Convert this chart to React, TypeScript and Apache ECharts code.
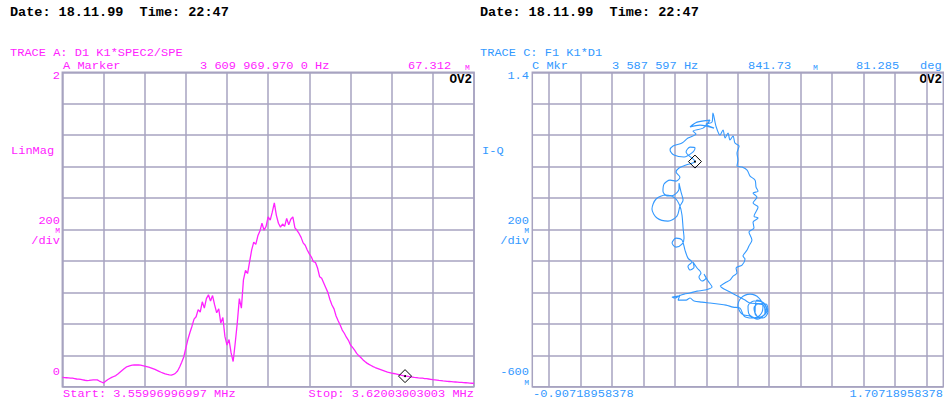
import React, { useEffect, useRef } from 'react';
import * as echarts from 'echarts';

// TRACE A: LinMag over 201 sweep points (index 0..200 between start & stop freq)
const leftMag = [
  0.059, 0.058, 0.057, 0.056, 0.055, 0.054, 0.052, 0.049, 0.048, 0.046,
  0.044, 0.041, 0.039, 0.040, 0.042, 0.043, 0.044, 0.043, 0.036, 0.030,
  0.024, 0.034, 0.044, 0.052, 0.059, 0.065, 0.071, 0.081, 0.092, 0.103,
  0.114, 0.124, 0.130, 0.134, 0.137, 0.139, 0.138, 0.139, 0.137, 0.134,
  0.131, 0.128, 0.124, 0.120, 0.115, 0.110, 0.104, 0.098, 0.092, 0.087,
  0.082, 0.078, 0.075, 0.074, 0.078, 0.086, 0.100, 0.125, 0.155, 0.189,
  0.245, 0.300, 0.345, 0.385, 0.430, 0.445, 0.490, 0.475, 0.540, 0.500,
  0.560, 0.585, 0.545, 0.580, 0.520, 0.470, 0.495, 0.405, 0.440, 0.320,
  0.265, 0.300, 0.215, 0.160, 0.278, 0.405, 0.560, 0.500, 0.680, 0.740,
  0.720, 0.795, 0.870, 0.920, 0.905, 0.960, 0.990, 1.040, 0.995, 1.020,
  1.080, 1.060, 1.110, 1.170, 1.090, 1.040, 1.015, 1.035, 1.020, 1.070,
  1.030, 1.065, 1.080, 1.010, 0.995, 0.975, 0.950, 0.915, 0.900, 0.870,
  0.845, 0.825, 0.795, 0.790, 0.755, 0.700, 0.690, 0.660, 0.630, 0.600,
  0.555, 0.520, 0.495, 0.450, 0.420, 0.392, 0.360, 0.340, 0.315, 0.295,
  0.265, 0.250, 0.232, 0.212, 0.198, 0.186, 0.172, 0.160, 0.150, 0.142,
  0.135, 0.128, 0.122, 0.117, 0.112, 0.107, 0.102, 0.097, 0.093, 0.090,
  0.086, 0.084, 0.081, 0.078, 0.075, 0.072, 0.069, 0.067, 0.065, 0.063,
  0.061, 0.059, 0.058, 0.056, 0.055, 0.054, 0.052, 0.051, 0.049, 0.047,
  0.045, 0.044, 0.042, 0.040, 0.039, 0.037, 0.036, 0.034, 0.033, 0.032,
  0.031, 0.030, 0.029, 0.028, 0.027, 0.026, 0.025, 0.024, 0.023, 0.022,
  0.021,
];

// TRACE C: I-Q diagram
const rightI = [
  0.287, 0.325, 0.350, 0.370, 0.395, 0.389, 0.427, 0.446, 0.433, 0.459,
  0.471, 0.490, 0.471, 0.503, 0.497, 0.529, 0.503, 0.529, 0.497, 0.522,
  0.497, 0.529, 0.516, 0.510, 0.478, 0.459, 0.427, 0.395, 0.401, 0.395,
  0.408, 0.382, 0.370, 0.350, 0.338, 0.319, 0.306, 0.287, 0.261, 0.242,
  0.236, 0.198, 0.249, 0.160, 0.096, 0.141, 0.223, 0.179, 0.115, 0.134,
  0.083, 0.045, -0.012, -0.031, -0.006, 0.058, 0.115, 0.128, 0.096, 0.071,
  0.128, 0.071, 0.026, 0.007, 0.032, 0.007, -0.031, -0.069, -0.076, -0.050,
  -0.006, 0.026, 0.026, 0.039, 0.052, 0.032, 0.013, -0.044, -0.114, -0.146,
  -0.120, -0.057, 0.001, 0.032, 0.045, 0.052, 0.058, 0.045, 0.007, -0.018,
  0.007, 0.045, 0.064, 0.083, 0.109, 0.083, 0.096, 0.122, 0.115, 0.141,
  0.166, 0.153, 0.172, 0.198, 0.185, 0.211, 0.236, 0.191, 0.141, 0.096,
  0.058, 0.020, -0.018, 0.001, 0.032, 0.020, 0.071, 0.096, 0.122, 0.172,
  0.223, 0.274, 0.325, 0.370, 0.414, 0.440, 0.490, 0.541, 0.560, 0.535,
  0.478, 0.420, 0.401, 0.427, 0.478, 0.522, 0.567, 0.580, 0.554, 0.503,
  0.465, 0.471, 0.516, 0.560, 0.586, 0.567, 0.522,
  0.510, 0.541, 0.573, 0.567, 0.529, 0.503, 0.522, 0.560, 0.592, 0.580,
  0.478, 0.446, 0.401, 0.350, 0.312, 0.287,
];
const rightQ = [
  0.040, 0.065, 0.078, 0.104, 0.123, 0.155, 0.174, 0.212, 0.231, 0.269,
  0.295, 0.333, 0.384, 0.409, 0.447, 0.473, 0.485, 0.543, 0.568, 0.606,
  0.632, 0.644, 0.670, 0.714, 0.740, 0.778, 0.797, 0.804, 0.842, 0.886,
  0.931, 0.950, 0.995, 0.969, 1.014, 0.982, 1.033, 1.001, 1.058, 1.141,
  1.083, 1.071, 1.045, 1.064, 1.052, 1.083, 1.096, 1.045, 1.026, 1.007,
  0.982, 0.950, 0.931, 0.905, 0.874, 0.861, 0.893, 0.918, 0.924, 0.893,
  0.832, 0.810, 0.791, 0.765, 0.733, 0.708, 0.714, 0.689, 0.644, 0.613,
  0.619, 0.657, 0.695, 0.638, 0.587, 0.549, 0.485, 0.453, 0.473, 0.530,
  0.594, 0.619, 0.600, 0.549, 0.492, 0.409, 0.345, 0.307, 0.288, 0.314,
  0.345, 0.333, 0.269, 0.218, 0.193, 0.167, 0.142, 0.161, 0.193, 0.155,
  0.123, 0.098, 0.072, 0.091, 0.116, 0.072, 0.034, 0.015, 0.008, -0.004,
  -0.011, -0.024, -0.030, -0.036, -0.017, -0.049, -0.049, -0.036, -0.055, -0.062,
  -0.068, -0.074, -0.081, -0.094, -0.100, -0.151, -0.163, -0.144, -0.094, -0.036,
  -0.011, -0.036, -0.087, -0.138, -0.151, -0.170, -0.144, -0.100, -0.062, -0.055,
  -0.087, -0.138, -0.163, -0.151, -0.113, -0.068, -0.049,
  -0.138, -0.157, -0.132, -0.087, -0.074, -0.100, -0.151, -0.163, -0.125, -0.074,
  -0.068, -0.049, -0.024, 0.002, 0.021, 0.040,
];

const leftMarker = [166.5, 0.067312];
const rightMarker = [0.1275, 0.832];

const rightXMin = -0.90718958378;
const rightXMax = 1.70718958378;
const rightXGrid = [-0.8, -0.6, -0.4, -0.2, 0, 0.2, 0.4, 0.6, 0.8, 1.0, 1.2, 1.4, 1.6];

const headerText = 'Date: 18.11.99  Time: 22:47';
const leftTitle = 'TRACE A: D1 K1*SPEC2/SPE';
const rightTitle = 'TRACE C: F1 K1*D1';
const leftYLabels = { top: '2', unit: 'LinMag', scale: '200', scaleUnit: 'M', perDiv: '/div', bottom: '0' };
const rightYLabels = { top: '1.4', unit: 'I-Q', scale: '200', scaleUnit: 'M', perDiv: '/div', bottom: '-600', bottomUnit: 'M' };
const leftXLabels = { start: 'Start: 3.55996996997 MHz', stop: 'Stop: 3.62003003003 MHz' };
const rightXLabels = { start: '-0.90718958378', stop: '1.70718958378' };
const leftMarkerTexts = { name: 'A Marker', freq: '3 609 969.970 0 Hz', value: '67.312', unit: 'M' };
const rightMarkerTexts = { name: 'C Mkr', freq: '3 587 597 Hz', mag: '841.73', magUnit: 'M', phase: '81.285', phaseUnit: 'deg' };

const MAG = '#ff22ff';
const BLUE = '#3399ff';
const GRID = '#a7a3c0';
const MONO = '"Liberation Mono", "DejaVu Sans Mono", monospace';

function txt(text: string, x: number, y: number, fill: string, opts: any = {}) {
  const size = opts.size || 11;
  const weight = opts.bold ? 'bold ' : '';
  return {
    type: 'text',
    x,
    y,
    scaleX: opts.sx || (opts.size ? 1 : 1.09),
    silent: true,
    style: {
      text,
      fill,
      font: `${weight}${size}px ${MONO}`,
      textAlign: opts.align || 'left',
      textVerticalAlign: 'middle',
    },
  };
}

export default function App() {
  const ref = useRef<HTMLDivElement>(null);
  useEffect(() => {
    document.body.style.margin = '0';
    if (!ref.current) return;
    const chart = echarts.init(ref.current, null, { renderer: 'svg' });
    const gridLine = { lineStyle: { color: GRID, width: 1.5, type: 'solid' } };
    const markerStyle = (coord: number[]) => ({
      silent: true,
      animation: false,
      label: { show: false },
      data: [
        { coord, symbol: 'diamond', symbolSize: 13, itemStyle: { color: 'rgba(0,0,0,0)', borderColor: '#000', borderWidth: 1 } },
        { coord, symbol: 'circle', symbolSize: 2, itemStyle: { color: '#000', borderWidth: 0 } },
      ],
    });
    const graphics = [
      txt(headerText, 10, 12, '#000', { bold: true, size: 13.5 }),
      txt(headerText, 480, 12, '#000', { bold: true, size: 13.5 }),
      txt(leftTitle, 10, 53, MAG),
      txt(leftMarkerTexts.name, 63, 66, MAG),
      txt(leftMarkerTexts.freq, 200, 66, MAG),
      txt(leftMarkerTexts.value, 408, 66, MAG),
      txt(leftMarkerTexts.unit, 465, 67, MAG, { size: 8 }),
      txt(leftYLabels.top, 60, 76, MAG, { align: 'right' }),
      txt(leftYLabels.unit, 11, 151, MAG),
      txt(leftYLabels.scale, 60, 220.5, MAG, { align: 'right' }),
      txt(leftYLabels.scaleUnit, 60, 230.5, MAG, { align: 'right', size: 8 }),
      txt(leftYLabels.perDiv, 60, 241, MAG, { align: 'right' }),
      txt(leftYLabels.bottom, 60, 372, MAG, { align: 'right' }),
      txt(leftXLabels.start, 63, 394, MAG),
      txt(leftXLabels.stop, 474, 394, MAG, { align: 'right' }),
      txt('OV2', 472, 80, '#000', { bold: true, size: 12.5, align: 'right' }),
      txt(rightTitle, 480, 53, BLUE),
      txt(rightMarkerTexts.name, 532, 66, BLUE),
      txt(rightMarkerTexts.freq, 612, 66, BLUE),
      txt(rightMarkerTexts.mag, 748, 66, BLUE),
      txt(rightMarkerTexts.magUnit, 813, 67, BLUE, { size: 8 }),
      txt(rightMarkerTexts.phase, 856, 66, BLUE),
      txt(rightMarkerTexts.phaseUnit, 920, 66, BLUE),
      txt(rightYLabels.top, 529, 76, BLUE, { align: 'right' }),
      txt(rightYLabels.unit, 482, 151, BLUE),
      txt(rightYLabels.scale, 529, 220.5, BLUE, { align: 'right' }),
      txt(rightYLabels.scaleUnit, 529, 230.5, BLUE, { align: 'right', size: 8 }),
      txt(rightYLabels.perDiv, 529, 241, BLUE, { align: 'right' }),
      txt(rightYLabels.bottom, 529, 372, BLUE, { align: 'right' }),
      txt(rightYLabels.bottomUnit, 529, 382, BLUE, { align: 'right', size: 8 }),
      txt(rightXLabels.start, 533, 394, BLUE),
      txt(rightXLabels.stop, 943, 394, BLUE, { align: 'right' }),
      txt('OV2', 942, 80, '#000', { bold: true, size: 12.5, align: 'right' }),
    ];
    chart.setOption({
      animation: false,
      backgroundColor: '#fff',
      grid: [
        { left: 62.3, top: 72.3, width: 411.7, height: 314.4, show: true, borderColor: GRID, borderWidth: 1.5, backgroundColor: 'transparent' },
        { left: 532.3, top: 72.3, width: 411, height: 314.4, show: true, borderColor: GRID, borderWidth: 1.5, backgroundColor: 'transparent' },
      ],
      xAxis: [
        { type: 'value', gridIndex: 0, min: 0, max: leftMag.length - 1, interval: 20, axisLine: { show: false }, axisTick: { show: false }, axisLabel: { show: false }, splitLine: gridLine },
        { type: 'value', gridIndex: 1, min: rightXMin, max: rightXMax, axisLine: { show: false }, axisTick: { show: false }, axisLabel: { show: false }, splitLine: { show: false } },
      ],
      yAxis: [
        { type: 'value', gridIndex: 0, min: 0, max: 2, interval: 0.2, axisLine: { show: false }, axisTick: { show: false }, axisLabel: { show: false }, splitLine: gridLine },
        { type: 'value', gridIndex: 1, min: -0.6, max: 1.4, interval: 0.2, axisLine: { show: false }, axisTick: { show: false }, axisLabel: { show: false }, splitLine: gridLine },
      ],
      series: [
        {
          type: 'line',
          xAxisIndex: 1,
          yAxisIndex: 1,
          data: [],
          silent: true,
          z: 1,
          markLine: {
            silent: true,
            z: 1,
            symbol: ['none', 'none'],
            label: { show: false },
            lineStyle: { color: GRID, width: 1.5, type: 'solid' },
            emphasis: { disabled: true },
            data: rightXGrid.map((v) => ({ xAxis: v })),
          },
        },
        {
          type: 'line',
          xAxisIndex: 0,
          yAxisIndex: 0,
          z: 3,
          data: leftMag.map((v, i) => [i, v]),
          showSymbol: false,
          silent: true,
          lineStyle: { color: MAG, width: 1.3 },
          markPoint: markerStyle(leftMarker),
        },
        {
          type: 'line',
          xAxisIndex: 1,
          yAxisIndex: 1,
          z: 3,
          data: rightI.map((v, k) => [v, rightQ[k]]),
          showSymbol: false,
          silent: true,
          smooth: 0.3,
          lineStyle: { color: BLUE, width: 1.1 },
          markPoint: markerStyle(rightMarker),
        },
      ],
      graphic: graphics,
    });
    return () => chart.dispose();
  }, []);
  return <div ref={ref} style={{ width: 944, height: 403 }} />;
}
